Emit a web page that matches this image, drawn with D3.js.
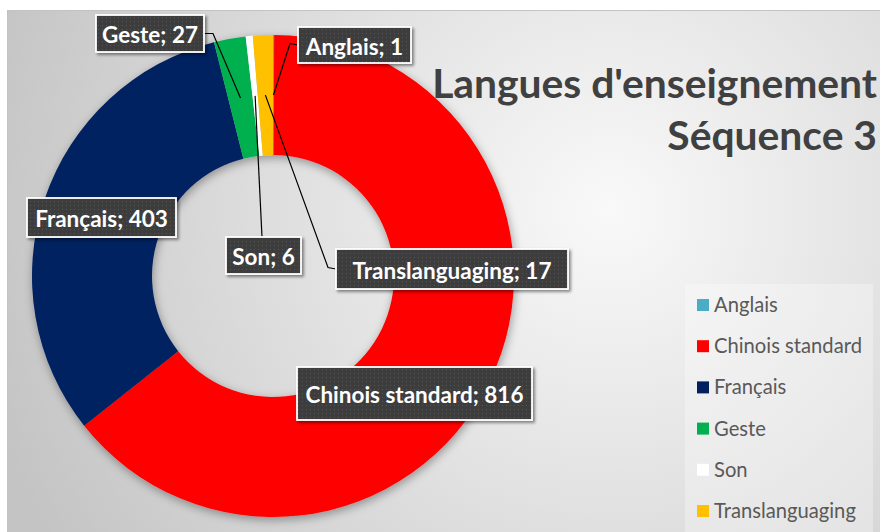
<!DOCTYPE html>
<html><head><meta charset="utf-8">
<script src="https://cdn.jsdelivr.net/npm/d3@7/dist/d3.min.js"></script>
<style>html,body{margin:0;padding:0;background:#fff;overflow:hidden}</style>
</head><body><svg id="c" width="880" height="532"></svg>
<script>
// ---- data ----
const categories = ["Anglais", "Chinois standard", "Français", "Geste", "Son", "Translanguaging"];
const values = [1, 816, 403, 27, 6, 17];
const colors = ["#4bacc6", "#ff0000", "#002060", "#00b050", "#ffffff", "#ffc000"];
const titleLines = ["Langues d'enseignement", "Séquence 3"];

// ---- layout (annotation placement, offsets from donut centre) ----
const labelLayout = {
  "Geste":            {dx: -123,  dy: -242.5, w: 108, h: 37, leader: "right"},
  "Anglais":          {dx: 81.5,  dy: -231,   w: 113, h: 36, leader: "left"},
  "Français":         {dx: -171.5,dy: -58.5,  w: 149, h: 39, leader: null},
  "Son":              {dx: -9.5,  dy: -20.5,  w: 75,  h: 37, leader: "top"},
  "Translanguaging":  {dx: 179,   dy: -7,     w: 232, h: 40, leader: "left"},
  "Chinois standard": {dx: 141.5, dy: 117.5,  w: 235, h: 53, leader: null}
};

const W = 880, H = 532;
const cx = 273, cy = 276, rOuter = 241, rInner = 121;
const FONT = "Lato, 'Open Sans', 'DejaVu Sans', sans-serif";

const svg = d3.select("#c");
const defs = svg.append("defs");

const rg = defs.append("radialGradient").attr("id", "bg")
  .attr("gradientUnits", "userSpaceOnUse")
  .attr("cx", 610).attr("cy", 210).attr("r", 650);
rg.append("stop").attr("offset", 0).attr("stop-color", "#f9f9f9");
rg.append("stop").attr("offset", 0.45).attr("stop-color", "#e2e2e2");
rg.append("stop").attr("offset", 1).attr("stop-color", "#c4c4c4");

const f1 = defs.append("filter").attr("id", "ringShadow")
  .attr("x", "-20%").attr("y", "-20%").attr("width", "140%").attr("height", "140%");
f1.append("feDropShadow").attr("dx", 1).attr("dy", 3).attr("stdDeviation", 5)
  .attr("flood-color", "#000").attr("flood-opacity", 0.35);

const f2 = defs.append("filter").attr("id", "boxShadow")
  .attr("x", "-20%").attr("y", "-30%").attr("width", "140%").attr("height", "160%");
f2.append("feDropShadow").attr("dx", 2).attr("dy", 2).attr("stdDeviation", 1.8)
  .attr("flood-color", "#000").attr("flood-opacity", 0.45);

const pat = defs.append("pattern").attr("id", "dots")
  .attr("patternUnits", "userSpaceOnUse").attr("width", 4).attr("height", 4);
pat.append("rect").attr("width", 4).attr("height", 4).attr("fill", "#3d3d3d");
pat.append("rect").attr("x", 1).attr("y", 1).attr("width", 1).attr("height", 1).attr("fill", "#555555");

// background
svg.append("rect").attr("width", W).attr("height", H).attr("fill", "#ffffff");
svg.append("rect").attr("x", 7.5).attr("y", 10.5).attr("width", W).attr("height", H)
  .attr("fill", "url(#bg)").attr("stroke", "#c3c3c3").attr("stroke-width", 1);

// font fitting helper
function fitSize(text, weight, target) {
  const t = svg.append("text").attr("font-family", FONT).attr("font-weight", weight)
    .attr("font-size", 100).text(text);
  const w = t.node().getComputedTextLength();
  t.remove();
  return 100 * target / w;
}

// donut
const data = categories.map((c, i) => ({name: c, value: values[i], color: colors[i]}));
const pie = d3.pie().value(d => d.value).sort(null).startAngle(0).endAngle(2 * Math.PI);
const arcs = pie(data);
const arc = d3.arc().innerRadius(rInner).outerRadius(rOuter);

const g = svg.append("g").attr("transform", `translate(${cx},${cy})`);
g.append("g").attr("filter", "url(#ringShadow)")
  .selectAll("path").data(arcs).join("path")
  .attr("d", arc).attr("fill", d => d.data.color);

// labels
const labelSize = fitSize("Chinois standard; 816", 700, 218);
const leaders = g.append("g");
const boxes = g.append("g");
arcs.forEach(a => {
  const L = labelLayout[a.data.name];
  if (!L) return;
  const [px, py] = arc.centroid(a);
  const left = L.dx - L.w / 2, right = L.dx + L.w / 2, top = L.dy - L.h / 2;
  let pts = null;
  if (L.leader === "right") pts = [[px, py], [right + 9, L.dy], [right, L.dy]];
  if (L.leader === "left") pts = [[px, py], [left - 8, L.dy - 1.5], [left, L.dy]];
  if (L.leader === "top") pts = [[px, py], [L.dx - 1.5, top]];
  if (pts) leaders.append("path").attr("d", d3.line()(pts))
    .attr("fill", "none").attr("stroke", "#000").attr("stroke-width", 1.2);
  const bg = boxes.append("g");
  bg.append("rect").attr("x", left).attr("y", top).attr("width", L.w).attr("height", L.h)
    .attr("fill", "url(#dots)").attr("stroke", "#ffffff").attr("stroke-width", 1.8)
    .attr("filter", "url(#boxShadow)");
  bg.append("text").attr("x", L.dx).attr("y", L.dy + 1)
    .attr("text-anchor", "middle").attr("dominant-baseline", "central")
    .attr("font-family", FONT).attr("font-weight", 700).attr("font-size", labelSize)
    .attr("fill", "#ffffff").text(`${a.data.name}; ${a.data.value}`);
});

// title
const titleSize = fitSize(titleLines[0], 700, 445);
svg.append("g").selectAll("text").data(titleLines).join("text")
  .attr("x", 877).attr("y", (d, i) => 98 + i * 52)
  .attr("text-anchor", "end")
  .attr("font-family", FONT).attr("font-weight", 700).attr("font-size", titleSize)
  .attr("fill", "#404040").text(d => d);

// legend
const legendSize = fitSize("Chinois standard", 400, 148);
const lg = svg.append("g");
lg.append("rect").attr("x", 685).attr("y", 284).attr("width", 188).attr("height", 260)
  .attr("fill", "#ffffff").attr("fill-opacity", 0.3);
const ly = d3.scalePoint().domain(categories).range([304, 510]);
const items = lg.selectAll("g.item").data(data).join("g").attr("class", "item")
  .attr("transform", d => `translate(697,${ly(d.name)})`);
items.append("rect").attr("x", 0).attr("y", -5).attr("width", 12).attr("height", 12)
  .attr("fill", d => d.color);
items.append("text").attr("x", 17).attr("y", 0).attr("dominant-baseline", "central")
  .attr("font-family", FONT).attr("font-size", legendSize).attr("fill", "#595959")
  .text(d => d.name);
</script>
</body></html>
